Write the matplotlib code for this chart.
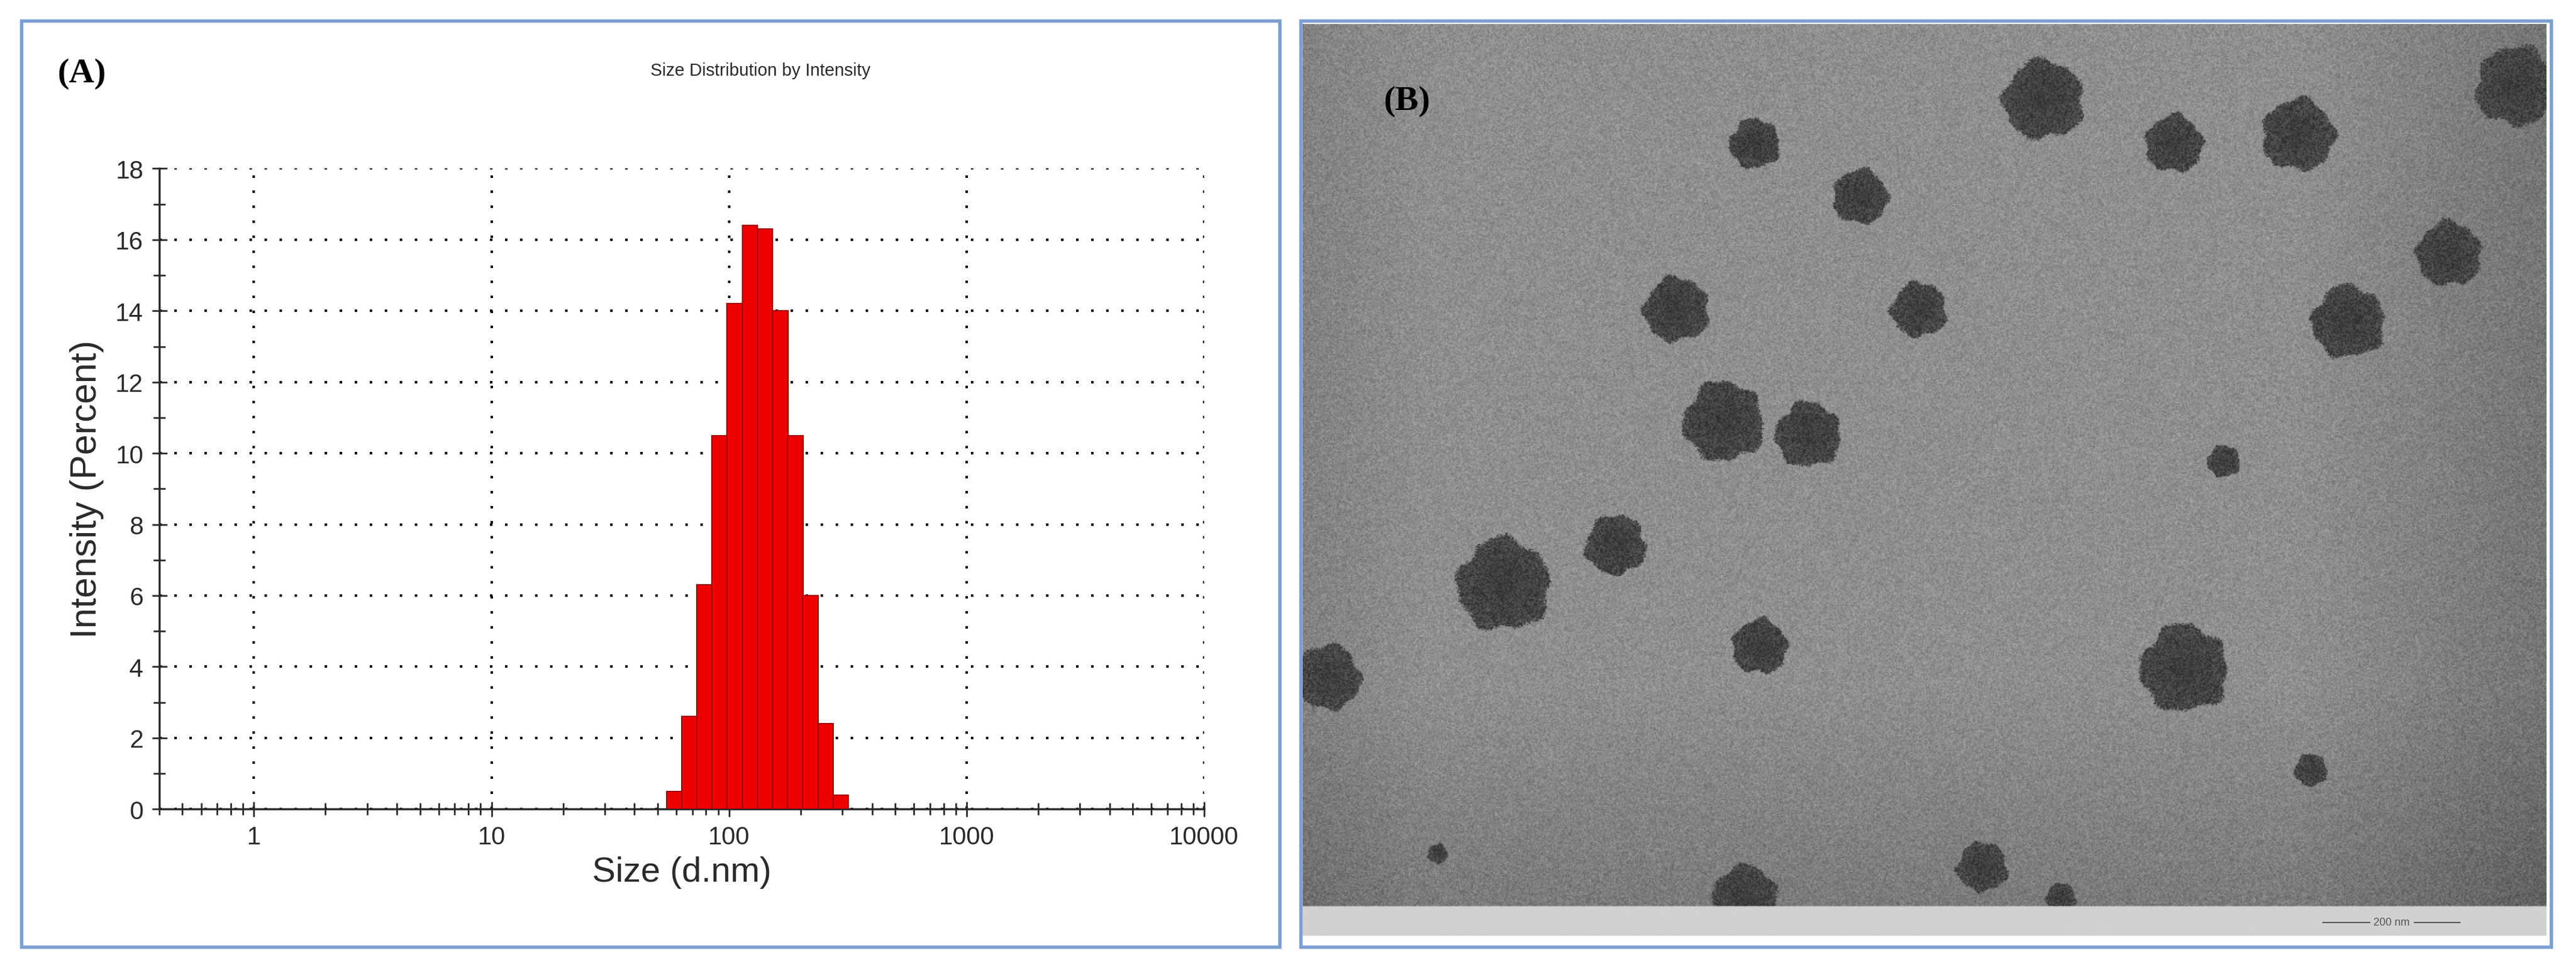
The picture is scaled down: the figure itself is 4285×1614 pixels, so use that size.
import numpy as np
import matplotlib
matplotlib.use("Agg")
import matplotlib.pyplot as plt
from matplotlib.ticker import LogLocator, MultipleLocator, NullFormatter
from matplotlib.patches import Rectangle

# ---- data: DLS size distribution (bin centres in nm, intensity %) ----
sizes = [58.7, 68.0, 78.8, 91.3, 105.7, 122.4, 141.8, 164.2, 190.1, 220.2, 255.0, 295.3]
intensity = [0.5, 2.6, 6.3, 10.5, 14.2, 16.4, 16.3, 14.0, 10.5, 6.0, 2.4, 0.4]
yticks = [0, 2, 4, 6, 8, 10, 12, 14, 16, 18]
xticks = [1, 10, 100, 1000, 10000]
xticklabels = ["1", "10", "100", "1000", "10000"]

# TEM particles (x, y in panel-B fractions from top-left, radius as fraction of width)
particles_x = [0.595, 0.975, 0.70, 0.80, 0.363, 0.448, 0.921, 0.300, 0.495, 0.840, 0.338, 0.406, 0.740, 0.251, 0.161, 0.367, 0.708, 0.020, 0.810, 0.546, 0.355, 0.609, 0.108]
particles_y = [0.085, 0.070, 0.135, 0.125, 0.135, 0.195, 0.260, 0.323, 0.323, 0.337, 0.450, 0.465, 0.495, 0.590, 0.635, 0.705, 0.730, 0.740, 0.845, 0.955, 0.990, 0.990, 0.940]
particles_r = [0.032, 0.032, 0.023, 0.029, 0.020, 0.022, 0.026, 0.026, 0.022, 0.029, 0.032, 0.026, 0.013, 0.024, 0.037, 0.022, 0.035, 0.026, 0.013, 0.020, 0.026, 0.012, 0.008]

W, H = 4285, 1615
fig = plt.figure(figsize=(W / 100, H / 100), dpi=100)
fig.patch.set_facecolor("white")
plt.rcParams['font.family'] = ['Liberation Sans', 'DejaVu Sans']

def fx(px): return px / 1568
def fy(py): return 1 - py / 591
border = fig.add_axes([0, 0, 1, 1], zorder=-5)
border.set_xlim(0, 1); border.set_ylim(0, 1); border.axis("off")
border.add_patch(Rectangle((fx(13), fy(577)), fx(779) - fx(13), fy(13) - fy(577),
                           fill=False, ec="#7a9fd0", lw=4))
border.add_patch(Rectangle((fx(792), fy(577)), fx(1553) - fx(792), fy(13) - fy(577),
                           fill=False, ec="#7a9fd0", lw=4))

# ---- panel A ----
txtc = "#2a2a2a"
ax = fig.add_axes([fx(97), fy(493), fx(733) - fx(97), fy(103) - fy(493)])
ratio = 10 ** 0.0323
lefts = [s / ratio for s in sizes]
widths = [s * ratio - s / ratio for s in sizes]
ax.bar(lefts, intensity, width=widths, align="edge", color="#ee0000",
       edgecolor="#a00000", linewidth=1.5, zorder=3)
ax.set_xscale("log")
ax.set_xlim(0.4, 10000)
ax.set_ylim(0, 18)
ax.set_xticks(xticks)
ax.set_xticklabels(xticklabels)
ax.xaxis.set_minor_locator(LogLocator(base=10, subs=np.arange(2, 10)))
ax.xaxis.set_minor_formatter(NullFormatter())
ax.set_yticks(yticks)
ax.yaxis.set_minor_locator(MultipleLocator(1))
ax.tick_params(axis="both", which="major", direction="inout", length=18, width=2,
               labelsize=30, labelcolor=txtc, color=txtc, pad=10)
ax.tick_params(axis="both", which="minor", direction="inout", length=14, width=2, color=txtc)
ax.grid(True, which="major", color="black", linestyle=(0, (1, 5)), linewidth=3)
for s in ["top", "right"]:
    ax.spines[s].set_visible(False)
for s in ["left", "bottom"]:
    ax.spines[s].set_linewidth(2.5)
    ax.spines[s].set_color(txtc)
ax.set_xlabel("Size (d.nm)", fontsize=42, color=txtc, labelpad=8)
ax.set_ylabel("Intensity (Percent)", fontsize=44, color=txtc, labelpad=14)
fig.text(fx(463), fy(43), "Size Distribution by Intensity", fontsize=21,
         color=txtc, ha="center", va="center")
fig.text(fx(35), fy(45), "(A)", fontsize=42, fontweight="bold",
         family="Liberation Serif", ha="left", va="center")

# ---- panel B : TEM micrograph ----
axb = fig.add_axes([fx(793), fy(570), fx(1550) - fx(793), fy(15) - fy(570)])
nx, ny = 1000, 740
yy, xx = np.mgrid[0:ny, 0:nx]
tex = (np.sin(xx * 12.9898 + yy * 78.233) * 43758.5453) % 1.0
tex2 = (np.sin(xx * 39.346 + yy * 11.135) * 23421.631) % 1.0
img = 0.56 + 0.22 * (0.5 * (tex + tex2) - 0.5)
ih = ny * (552 - 15) / (570 - 15)
u = xx / nx; v = yy / ih
img -= 0.10 * np.clip(u - 0.8, 0, None) / 0.2
img -= 0.08 * np.clip(v - 0.75, 0, None) / 0.25
img -= 0.05 * np.clip(0.1 - u, 0, None) / 0.1
for px, py, pr in zip(particles_x, particles_y, particles_r):
    cx, cy, r = px * nx, py * ih, pr * nx
    d = np.sqrt((xx - cx) ** 2 + (yy - cy) ** 2)
    th = np.arctan2(yy - cy, xx - cx)
    rough = r * (1 + 0.06 * np.sin(5 * th + cx) + 0.04 * np.sin(9 * th + cy) + 0.03 * np.sin(3 * th))
    rough = rough * (1 + 0.08 * (tex2 - 0.5))
    mask = d < rough
    img[mask] = 0.17 + 0.22 * tex[mask] * (0.6 + 0.4 * d[mask] / r)
img[int(ih):, :] = 0.82
axb.imshow(img, cmap="gray", vmin=0, vmax=1, aspect="auto", interpolation="bilinear")
axb.set_xticks([]); axb.set_yticks([])
for s in axb.spines.values():
    s.set_visible(False)
axb.plot([0.82 * nx, 0.93 * nx], [ny * 0.985, ny * 0.985], color="#555555", lw=1.5)
axb.text(0.875 * nx, ny * 0.985, "200 nm", fontsize=13, color="#555555",
         ha="center", va="center", backgroundcolor="#d1d1d1")
fig.text(fx(842), fy(62), "(B)", fontsize=42, fontweight="bold",
         family="Liberation Serif", ha="left", va="center")

fig.savefig("out.png", dpi=100, facecolor="white")
